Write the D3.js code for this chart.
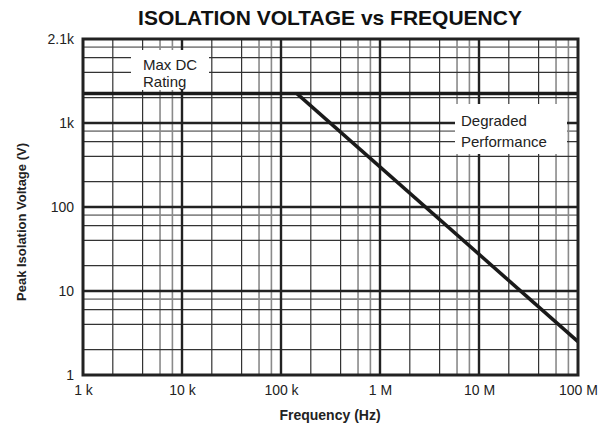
<!DOCTYPE html>
<html>
<head>
<meta charset="utf-8">
<script src="https://cdn.jsdelivr.net/npm/d3@7"></script>
<style>
  body { margin: 0; background: #fff; }
  svg { display: block; font-family: "Liberation Sans", Arial, sans-serif; }
</style>
</head>
<body>
<script>
const w = 606;
const h = 429;

// data
const xTicks = [1e3, 1e4, 1e5, 1e6, 1e7, 1e8];
const xTickLabels = ["1 k", "10 k", "100 k", "1 M", "10 M", "100 M"];
const yTicks = [1, 10, 100, 1000, 10000];
const yTickLabels = ["1", "10", "100", "1k", "2.1k"];
const minorDark = { x: [2, 4], y: [2, 4, 6] };
const minorGrey = { x: [6, 8], y: [8] };
const maxDcRating = 2250;
const limitFreq = [144e3, 1e8];
const limitVolt = [2250, 2.5];

const margin = { top: 39, right: 28, bottom: 54, left: 83 };

const svg = d3.select("body").append("svg").attr("width", w).attr("height", h);

const x = d3.scaleLog().domain([1e3, 1e8]).range([margin.left, w - margin.right]);
const y = d3.scaleLog().domain([1, 1e4]).range([h - margin.bottom, margin.top]);

const decadesX = d3.range(3, 8).map((e) => Math.pow(10, e));
const decadesY = d3.range(0, 4).map((e) => Math.pow(10, e));

function minorVals(decades, mults) {
  const out = [];
  decades.forEach((d) => mults.forEach((m) => out.push(d * m)));
  return out;
}

const grid = svg.append("g");
const x0 = x.range()[0], x1 = x.range()[1];
const y0 = y.range()[0], y1 = y.range()[1];

// grey minor lines
grid.selectAll(".gx").data(minorVals(decadesX, minorGrey.x)).enter().append("line")
  .attr("x1", (d) => x(d)).attr("x2", (d) => x(d)).attr("y1", y0).attr("y2", y1)
  .attr("stroke", "#8a8a8a").attr("stroke-width", 1.6);
grid.selectAll(".gy").data(minorVals(decadesY, minorGrey.y)).enter().append("line")
  .attr("y1", (d) => y(d)).attr("y2", (d) => y(d)).attr("x1", x0).attr("x2", x1)
  .attr("stroke", "#8a8a8a").attr("stroke-width", 1.6);

// dark minor lines
grid.selectAll(".mx").data(minorVals(decadesX, minorDark.x)).enter().append("line")
  .attr("x1", (d) => x(d)).attr("x2", (d) => x(d)).attr("y1", y0).attr("y2", y1)
  .attr("stroke", "#333").attr("stroke-width", 1.2);
grid.selectAll(".my").data(minorVals(decadesY, minorDark.y)).enter().append("line")
  .attr("y1", (d) => y(d)).attr("y2", (d) => y(d)).attr("x1", x0).attr("x2", x1)
  .attr("stroke", "#333").attr("stroke-width", 1.2);

// decade lines
grid.selectAll(".dx").data(xTicks.slice(1, -1)).enter().append("line")
  .attr("x1", (d) => x(d)).attr("x2", (d) => x(d)).attr("y1", y0).attr("y2", y1)
  .attr("stroke", "#222").attr("stroke-width", 2.4);
grid.selectAll(".dy").data(yTicks.slice(1, -1)).enter().append("line")
  .attr("y1", (d) => y(d)).attr("y2", (d) => y(d)).attr("x1", x0).attr("x2", x1)
  .attr("stroke", "#222").attr("stroke-width", 2.4);

// annotation boxes (white background over the grid)
svg.append("rect").attr("x", 131).attr("y", 50).attr("width", 78).attr("height", 40).attr("fill", "#fff");
svg.append("rect").attr("x", 455).attr("y", 104).attr("width", 112).attr("height", 50).attr("fill", "#fff");

svg.append("text").attr("x", 143).attr("y", 70).attr("font-size", 15).attr("fill", "#222").text("Max DC");
svg.append("text").attr("x", 143).attr("y", 87).attr("font-size", 15).attr("fill", "#222").text("Rating");
svg.append("text").attr("x", 461).attr("y", 126).attr("font-size", 15).attr("fill", "#222").text("Degraded");
svg.append("text").attr("x", 461).attr("y", 147).attr("font-size", 15).attr("fill", "#222").text("Performance");

// max DC rating line
svg.append("line")
  .attr("x1", x0).attr("x2", x1).attr("y1", y(maxDcRating)).attr("y2", y(maxDcRating))
  .attr("stroke", "#1a1a1a").attr("stroke-width", 3.5);

// limit curve
const pts = limitFreq.map((f, i) => [f, limitVolt[i]]);
svg.append("path")
  .datum(pts)
  .attr("d", d3.line().x((d) => x(d[0])).y((d) => y(d[1])))
  .attr("fill", "none").attr("stroke", "#1a1a1a").attr("stroke-width", 3.5);

// frame
svg.append("rect")
  .attr("x", x0).attr("y", y1).attr("width", x1 - x0).attr("height", y0 - y1)
  .attr("fill", "none").attr("stroke", "#222").attr("stroke-width", 3);

// axes
const xAxis = d3.axisBottom(x).tickValues(xTicks).tickSize(0).tickPadding(10)
  .tickFormat((d, i) => xTickLabels[i]);
svg.append("g").attr("transform", "translate(0," + y0 + ")").call(xAxis)
  .call((g) => g.select(".domain").remove())
  .selectAll("text").attr("font-size", 14).attr("fill", "#222").attr("font-family", null);

const yAxis = d3.axisLeft(y).tickValues(yTicks).tickSize(0).tickPadding(9)
  .tickFormat((d, i) => yTickLabels[i]);
svg.append("g").attr("transform", "translate(" + x0 + ",0)").call(yAxis)
  .call((g) => g.select(".domain").remove())
  .selectAll("text").attr("font-size", 14).attr("fill", "#222").attr("font-family", null);

// titles
svg.append("text").attr("x", 330).attr("y", 25).attr("text-anchor", "middle")
  .attr("font-size", 21).attr("font-weight", "bold").attr("fill", "#111")
  .text("ISOLATION VOLTAGE vs FREQUENCY");
svg.append("text").attr("x", 330).attr("y", 420).attr("text-anchor", "middle")
  .attr("font-size", 14).attr("font-weight", "bold").attr("fill", "#222")
  .text("Frequency (Hz)");
svg.append("text").attr("transform", "translate(26,222) rotate(-90)").attr("text-anchor", "middle")
  .attr("font-size", 13).attr("font-weight", "bold").attr("fill", "#222")
  .text("Peak Isolation Voltage (V)");
</script>
</body>
</html>
